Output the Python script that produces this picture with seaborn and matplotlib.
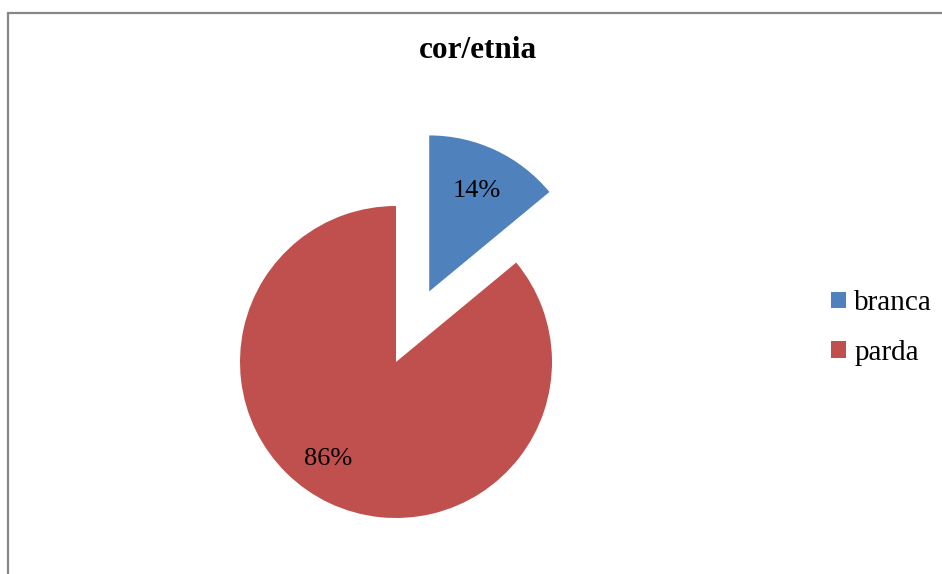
import numpy as np
import matplotlib
matplotlib.use("Agg")
import matplotlib.pyplot as plt
from matplotlib.patches import Patch, Rectangle
import seaborn as sns

# --- data ---
labels = ['branca', 'parda']
values = [14, 86]
title = 'cor/etnia'

sns.set_theme(style="white")
plt.rcParams['font.family'] = ['Liberation Serif', 'DejaVu Serif']
plt.rcParams['text.color'] = 'black'

colors = sns.color_palette(['#4F81BD', '#C0504D'])

W, H = 942, 574
fig = plt.figure(figsize=(W / 100, H / 100), dpi=100)
ax = fig.add_axes([0, 0, 1, 1])

# pie centre / radius in pixels
cx, cy, r = 396, 362, 156

wedges, texts, autotexts = ax.pie(
    values, colors=colors, startangle=90, counterclock=False,
    explode=[0.5, 0], autopct='%1.0f%%', pctdistance=0.71,
    textprops=dict(fontsize=19, color='black'),
    wedgeprops=dict(linewidth=0),
)
# Excel-like placement of the big slice label
ang = np.deg2rad(-125)
autotexts[1].set_position((0.76 * np.cos(ang), 0.76 * np.sin(ang)))

ax.set_xlim(-cx / r, (W - cx) / r)
ax.set_ylim(-(H - cy) / r, cy / r)
ax.set_aspect('equal', adjustable='box')
ax.axis('off')

fig.text(477.5 / W, 1 - 51 / H, title, ha='center', va='center',
         fontsize=22.5, fontweight='bold', color='black')

handles = [Patch(facecolor=c, edgecolor='none') for c in colors]
fig.legend(handles, labels, loc='center left',
           bbox_to_anchor=(831 / W, 1 - 328 / H), frameon=False,
           fontsize=21, handlelength=0.5, handleheight=0.5,
           handletextpad=0.3, labelspacing=0.8, borderpad=0,
           borderaxespad=0, labelcolor='black')

# chart-area border (cut off at right and bottom)
fig.add_artist(Rectangle((8 / W, -0.1), 2, 1 - 13 / H + 0.1,
                         transform=fig.transFigure, fill=False,
                         edgecolor='#878787', linewidth=1.6))

fig.savefig('out.png', dpi=100)
